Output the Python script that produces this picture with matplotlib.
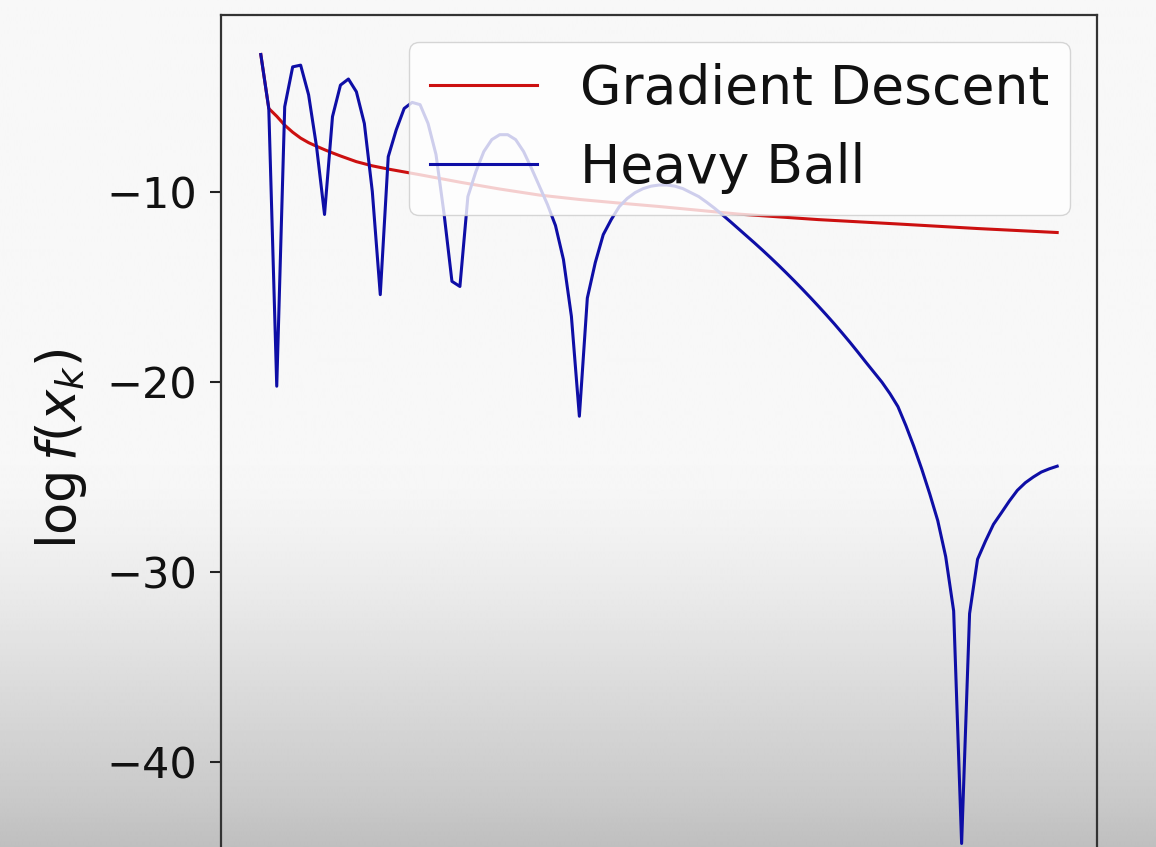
import numpy as np
import matplotlib
matplotlib.use("Agg")
import matplotlib.pyplot as plt

# ---- data ----
hb_iter = list(range(0, 101))
hb_logf = [
    -2.77, -5.61, -20.23, -5.52, -3.42, -3.33, -4.89, -7.63, -11.19, -6.04,
    -4.38, -4.06, -4.73, -6.40, -9.98, -15.41, -8.15, -6.74, -5.61, -5.29,
    -5.41, -6.40, -8.04, -11.12, -14.71, -14.98, -10.25, -8.94, -7.88, -7.25,
    -6.99, -6.99, -7.25, -7.88, -8.77, -9.72, -10.67, -11.77, -13.56, -16.55,
    -21.81, -15.59, -13.72, -12.25, -11.46, -10.78, -10.35, -10.04, -9.83, -9.70,
    -9.64, -9.64, -9.70, -9.83, -10.04, -10.25, -10.55, -10.87, -11.22, -11.58,
    -11.95, -12.32, -12.69, -13.07, -13.46, -13.86, -14.27, -14.69, -15.12, -15.56,
    -16.01, -16.47, -16.94, -17.43, -17.93, -18.45, -18.98, -19.50, -20.02, -20.62,
    -21.30, -22.30, -23.40, -24.60, -25.90, -27.30, -29.20, -32.06, -44.30, -32.20,
    -29.34, -28.38, -27.50, -26.89, -26.27, -25.71, -25.31, -25.01, -24.75, -24.58,
    -24.44,
]
gd_iter = [0, 1, 2, 3, 4, 5, 6, 7, 8, 9, 10, 12, 14, 16, 18, 20, 25, 30, 35, 40,
           45, 50, 60, 70, 80, 90, 100]
gd_logf = [-2.77, -5.61, -6.02, -6.49, -6.86, -7.17, -7.41, -7.60, -7.78, -7.95,
           -8.11, -8.41, -8.63, -8.80, -8.95, -9.10, -9.49, -9.85, -10.17, -10.40,
           -10.59, -10.77, -11.17, -11.46, -11.69, -11.93, -12.14]
y_ticks = [-10, -20, -30, -40]
series_labels = ["Gradient Descent", "Heavy Ball"]

# ---- figure ----
W, H = 1156, 847
fig = plt.figure(figsize=(W / 100, H / 100), dpi=100)
fig.patch.set_facecolor("#f7f7f9")

# background shading (video frame look)
bg = fig.add_axes([0, 0, 1, 1], zorder=-10)
rows = np.arange(H)
g = np.interp(rows, [0, 480, 520, 600, 700, 800, 847],
              [248, 247, 243, 233, 217, 201, 191]) / 255.0
img = np.repeat(g[:, None], 4, axis=1)
bg.imshow(img, cmap="gray", vmin=0, vmax=1, aspect="auto",
          extent=[0, 1, 0, 1], origin="upper", interpolation="bilinear")
bg.set_axis_off()

left = 221 / W
right = 1097 / W
top = 1 - 15 / H
bottom = 1 - 883 / H
ax = fig.add_axes([left, bottom, right - left, top - bottom])
ax.set_facecolor("none")

ax.plot(gd_iter, gd_logf, color="#cc1010", lw=2.2, label=series_labels[0])
ax.plot(hb_iter, hb_logf, color="#0e0ea6", lw=2.2, label=series_labels[1])

ax.set_xlim(-5, 105)
ax.set_ylim(-46.38, -0.69)
ax.set_yticks(y_ticks)
ax.tick_params(axis="y", labelsize=31, length=8, width=1.5, pad=9, colors="#222222")
ax.tick_params(axis="y", labelcolor="#111111")
ax.tick_params(axis="x", labelbottom=False, bottom=False)
for s in ax.spines.values():
    s.set_linewidth(1.6)
    s.set_color("#333333")

ax.set_ylabel(r"$\log f(x_k)$", fontsize=38, color="#111111")
ax.yaxis.set_label_coords(-0.151, 0.5)

leg = ax.legend(loc="upper right", fontsize=38.5)
for t in leg.get_texts():
    t.set_color("#111111")

fig.savefig("out.png", dpi=100, facecolor=fig.get_facecolor())
